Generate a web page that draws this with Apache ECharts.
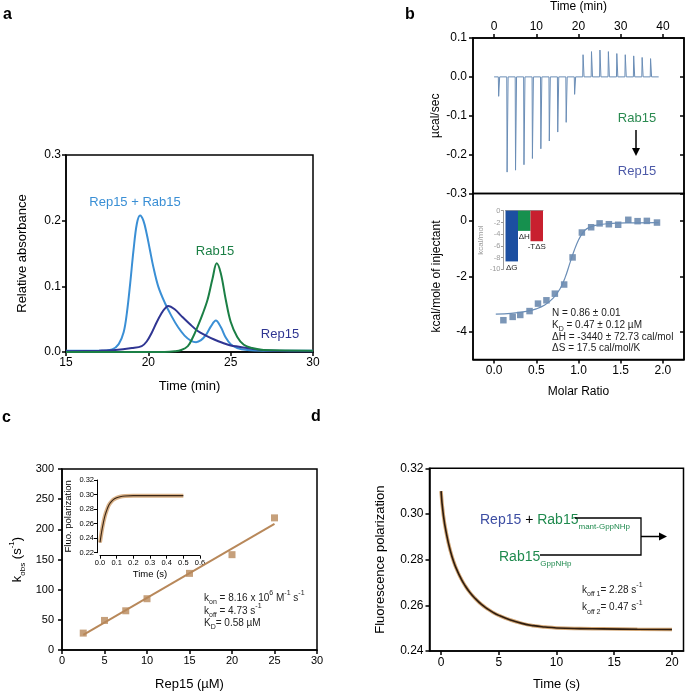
<!DOCTYPE html>
<html><head><meta charset="utf-8">
<script src="https://cdn.jsdelivr.net/npm/echarts@6/dist/echarts.min.js"></script>
<style>html,body{margin:0;padding:0;background:#fff}#c{width:685px;height:692px}</style>
</head><body><div id="c"></div><script>
// ---------- Panel a: size-exclusion traces ----------
const complexT = [15, 17, 17.8, 18.2, 18.5, 18.7, 18.9, 19.1, 19.3, 19.5, 19.7, 19.9, 20.1, 20.3, 20.6, 21.0, 21.4, 21.8, 22.2, 22.6, 22.9, 23.2, 23.5, 23.8, 24.1, 24.4, 24.7, 25.0, 25.4, 26.0, 27.0, 30];
const complexA = [0.002, 0.002, 0.004, 0.012, 0.03, 0.06, 0.105, 0.155, 0.195, 0.208, 0.2, 0.18, 0.155, 0.13, 0.1, 0.075, 0.055, 0.038, 0.025, 0.017, 0.015, 0.018, 0.026, 0.039, 0.048, 0.038, 0.022, 0.012, 0.006, 0.003, 0.002, 0.002];
const rep15T = [15, 17, 18, 19, 19.6, 19.9, 20.2, 20.5, 20.8, 21.0, 21.2, 21.6, 22.0, 22.5, 23.0, 23.5, 24.0, 24.5, 25.0, 25.5, 26.0, 26.5, 27.5, 30];
const rep15A = [0.001, 0.002, 0.003, 0.006, 0.009, 0.016, 0.029, 0.045, 0.059, 0.066, 0.070, 0.065, 0.055, 0.043, 0.032, 0.025, 0.019, 0.014, 0.010, 0.008, 0.006, 0.004, 0.002, 0.001];
const rab15T = [15, 21.0, 21.6, 22.0, 22.4, 22.7, 23.0, 23.3, 23.6, 23.9, 24.15, 24.4, 24.7, 25.0, 25.4, 25.8, 26.3, 27.0, 30];
const rab15A = [0.0, 0.0, 0.001, 0.003, 0.009, 0.022, 0.039, 0.058, 0.08, 0.112, 0.135, 0.12, 0.08, 0.046, 0.023, 0.011, 0.006, 0.003, 0.002];

// ---------- Panel b: ITC ----------
const injTime = [1, 3, 5, 7, 9, 11, 13, 15, 17, 19, 21, 23, 25, 27, 29, 31, 33, 35, 37];
const injPeak = [-0.05, -0.245, -0.24, -0.226, -0.21, -0.185, -0.165, -0.142, -0.117, -0.045, 0.057, 0.065, 0.069, 0.065, 0.06, 0.057, 0.054, 0.05, 0.047];
const molarRatio = [0.11, 0.22, 0.31, 0.42, 0.52, 0.62, 0.72, 0.83, 0.93, 1.04, 1.15, 1.25, 1.36, 1.47, 1.59, 1.70, 1.81, 1.93];
const heat = [-3.58, -3.46, -3.39, -3.25, -2.98, -2.86, -2.62, -2.29, -1.31, -0.41, -0.22, -0.08, -0.11, -0.13, 0.05, 0.0, 0.01, -0.05];
const fitRatio = [0.02, 0.2, 0.4, 0.5, 0.6, 0.7, 0.78, 0.84, 0.9, 0.95, 1.0, 1.05, 1.1, 1.2, 1.35, 1.6, 1.95];
const fitHeat = [-3.36, -3.33, -3.25, -3.17, -3.03, -2.78, -2.45, -2.05, -1.5, -1.05, -0.68, -0.42, -0.27, -0.15, -0.09, -0.06, -0.05];
const thermoLabels = ['ΔG', 'ΔH', '-TΔS'];
const thermoValues = [-8.64, -3.44, -5.2];
const thermoColors = ['#1c4fa1', '#16904e', '#c8202f'];

// ---------- Panel c: kobs ----------
const rep15Conc = [2.5, 5, 7.5, 10, 15, 20, 25];
const kobs = [28, 49, 65, 85, 127, 158, 219];
const kobsFitX = [2.5, 25];
const kobsFitY = [25, 209];
const insetT = [0, 0.01, 0.02, 0.03, 0.04, 0.05, 0.06, 0.08, 0.1, 0.12, 0.15, 0.2, 0.3, 0.4, 0.5];
const insetFP = [0.234, 0.249, 0.261, 0.271, 0.278, 0.284, 0.288, 0.293, 0.2955, 0.297, 0.298, 0.2985, 0.2985, 0.2985, 0.2985];

// ---------- Panel d: dissociation ----------
const dT = [0, 0.2, 0.5, 0.8, 1.1, 1.4, 1.7, 2.0, 2.5, 3.0, 3.5, 4.0, 4.5, 5.0, 6.0, 7.0, 8.0, 9.0, 10, 12, 14, 17, 20];
const dFP = [0.310, 0.2995, 0.2905, 0.284, 0.279, 0.2752, 0.272, 0.2693, 0.2656, 0.2628, 0.2604, 0.2585, 0.2569, 0.2556, 0.2536, 0.2521, 0.2511, 0.2505, 0.2501, 0.2498, 0.2497, 0.2495, 0.2494];

const FF = '"Liberation Sans", Arial, Helvetica, sans-serif';
const C_LB = '#3a8fd5', C_NAVY = '#2f3592', C_GREEN = '#1b7f45';
const C_ITC = '#6a8db6', C_ITCPT = '#5a7ca5';
const C_TAN = '#b8885a';
const C_DBLUE = '#3d4ea3', C_DGREEN = '#1f8a4e';

const zip = (a, b) => a.map((v, i) => [v, b[i]]);

function ax(p) {
  const col = p.color || '#000';
  const o = {
    type: 'value', gridIndex: p.g, min: p.min, max: p.max, position: p.pos, offset: p.offset || 0,
    axisLine: {show: true, onZero: false, lineStyle: {color: col, width: p.lw || 1.5}},
    axisTick: {show: true, inside: !!p.tickInside, length: p.tickLen || 4, lineStyle: {color: col, width: p.lw || 1.5}},
    axisLabel: {show: p.showLabel !== false, color: p.labelColor || '#000', fontFamily: FF, fontSize: p.fs || 12, margin: p.margin || 6},
    splitLine: {show: false},
    name: p.name || '', nameLocation: 'middle', nameGap: p.nameGap || 30,
    nameTextStyle: {color: p.nameColor || '#000', fontFamily: FF, fontSize: p.nfs || 13}
  };
  if (p.rich) o.nameTextStyle.rich = p.rich;
  if (p.fmt) o.axisLabel.formatter = p.fmt;
  if (p.interval != null) o.interval = p.interval;
  if (p.cv) { o.axisLabel.customValues = p.cv; o.axisTick.customValues = p.cv; }
  return o;
}
const f1 = v => v.toFixed(1), f2 = v => v.toFixed(2);

function tok(fs, color, lh, va) {
  return {fontSize: fs, fontFamily: FF, color: color, fill: color, lineHeight: lh, verticalAlign: va};
}
function richSet(fs, color) {
  const sf = Math.round(fs * 0.65);
  return {m: tok(fs, color, fs + 6, 'middle'), s: tok(sf, color, sf, 'bottom'), p: tok(sf, color, sf, 'top')};
}
function txt(x, y, text, fs, color, align, extra) {
  const st = Object.assign({text: text, fill: color || '#222', fontFamily: FF, fontSize: fs,
    align: align || 'left', verticalAlign: 'middle'}, extra || {});
  return {type: 'text', x: x, y: y, style: st, z: 100};
}
function rtxt(x, y, text, fs, color, rich) {
  return {type: 'text', x: x, y: y, z: 100, style: {text: text, fill: color, fontFamily: FF, fontSize: fs,
    align: 'left', verticalAlign: 'middle', rich: rich || richSet(fs, color)}};
}

const itcTrace = [[0, 0]];
injTime.forEach((t, i) => { itcTrace.push([t, 0], [t + 0.08, injPeak[i]], [t + 0.32, 0]); });
itcTrace.push([39, 0]);

const border = {show: true, borderColor: '#000', borderWidth: 1.5, backgroundColor: 'transparent'};

const option = {
  animation: false,
  grid: [
    Object.assign({left: 66, top: 155, width: 247, height: 197}, border),
    Object.assign({left: 473, top: 30, width: 211, height: 163.5}, border),
    Object.assign({left: 473, top: 193.5, width: 211, height: 166}, border),
    {left: 505.5, top: 210.7, width: 37.5, height: 58.7},
    Object.assign({left: 62, top: 469, width: 255, height: 186}, border),
    {left: 100, top: 480, width: 100, height: 72.7},
    Object.assign({left: 429.5, top: 468.3, width: 254, height: 186.5}, border)
  ],
  xAxis: [
    ax({g: 0, min: 15, max: 30, interval: 5, name: 'Time (min)', nameGap: 28, margin: 5}),
    ax({g: 1, min: -5, max: 45, pos: 'top', cv: [0, 10, 20, 30, 40], name: 'Time (min)', nameGap: 25, fs: 12, nfs: 12, margin: 5}),
    ax({g: 2, min: -0.25, max: 2.25, cv: [0, 0.5, 1, 1.5, 2], fmt: f1, name: 'Molar Ratio', nameGap: 26, fs: 12, nfs: 12, margin: 5}),
    {type: 'category', gridIndex: 3, data: thermoLabels, position: 'top',
      axisLine: {show: true, onZero: true, lineStyle: {color: '#999', width: 1}}, axisTick: {show: false}, axisLabel: {show: false}},
    ax({g: 4, min: 0, max: 30, interval: 5, name: 'Rep15 (µM)', nameGap: 28, fs: 11, nfs: 13, margin: 5}),
    ax({g: 5, min: 0, max: 0.6, interval: 0.1, fmt: f1, offset: 3, name: 'Time (s)', nameGap: 14, fs: 7.5, nfs: 9.5, margin: 3, lw: 1, tickLen: 3}),
    ax({g: 6, min: -1, max: 21, cv: [0, 5, 10, 15, 20], name: 'Time (s)', nameGap: 27, fs: 12, nfs: 13, margin: 6})
  ],
  yAxis: [
    ax({g: 0, min: 0, max: 0.3, interval: 0.1, fmt: f1, name: 'Relative absorbance', nameGap: 37, fs: 12, margin: 5}),
    ax({g: 1, min: -0.3, max: 0.1, interval: 0.1, fmt: f1, name: 'µcal/sec', nameGap: 31, fs: 12, nfs: 12, margin: 6}),
    ax({g: 2, min: -5, max: 1, cv: [0, -2, -4], name: 'kcal/mole of injectant', nameGap: 30, fs: 12, nfs: 12, margin: 6}),
    ax({g: 3, min: -10, max: 0, interval: 2, offset: 2, color: '#9a9a9a', labelColor: '#9a9a9a', lw: 1, tickLen: 2.5, fs: 7.5, margin: 3,
        name: 'kcal/mol', nameGap: 19, nfs: 8, nameColor: '#9a9a9a'}),
    ax({g: 4, min: 0, max: 300, interval: 50, fs: 11, margin: 8, name: '{m|k}{s|obs}{m| (s}{p|-1}{m|)}', nameGap: 35, rich: richSet(13, '#000')}),
    ax({g: 5, min: 0.22, max: 0.32, interval: 0.02, fmt: f2, offset: 3, fs: 7.5, margin: 3, lw: 1, tickLen: 3, name: 'Fluo. polarization', nameGap: 24, nfs: 9.5}),
    ax({g: 6, min: 0.24, max: 0.32, interval: 0.02, fmt: f2, name: 'Fluorescence polarization', nameGap: 43, fs: 12, nfs: 13, margin: 6}),
    ax({g: 1, min: -0.3, max: 0.1, interval: 0.1, pos: 'right', showLabel: false, tickInside: true, name: ''}),
    ax({g: 2, min: -5, max: 1, cv: [0, -2, -4], pos: 'right', showLabel: false, tickInside: true, name: ''})
  ],
  series: [
    {type: 'line', xAxisIndex: 0, yAxisIndex: 0, data: zip(complexT, complexA), smooth: 0.35, showSymbol: false, lineStyle: {color: C_LB, width: 2}},
    {type: 'line', xAxisIndex: 0, yAxisIndex: 0, data: zip(rep15T, rep15A), smooth: 0.35, showSymbol: false, lineStyle: {color: C_NAVY, width: 2}},
    {type: 'line', xAxisIndex: 0, yAxisIndex: 0, data: zip(rab15T, rab15A), smooth: 0.35, showSymbol: false, lineStyle: {color: C_GREEN, width: 2}},
    {type: 'line', xAxisIndex: 1, yAxisIndex: 1, data: itcTrace, showSymbol: false, lineStyle: {color: C_ITC, width: 1}},
    {type: 'line', xAxisIndex: 2, yAxisIndex: 2, data: zip(fitRatio, fitHeat), smooth: 0.4, showSymbol: false, lineStyle: {color: C_ITC, width: 1.2}},
    {type: 'scatter', xAxisIndex: 2, yAxisIndex: 2, data: zip(molarRatio, heat), symbol: 'rect', symbolSize: 6.5, itemStyle: {color: C_ITCPT}},
    {type: 'bar', xAxisIndex: 3, yAxisIndex: 3, barCategoryGap: '0%', barWidth: '100%',
      data: thermoValues.map((v, i) => ({value: v, itemStyle: {color: thermoColors[i]}})),
      label: {show: true, position: 'bottom', distance: 2, formatter: '{b}', fontSize: 8, color: '#222', fontFamily: FF}},
    {type: 'line', xAxisIndex: 4, yAxisIndex: 4, data: zip(kobsFitX, kobsFitY), showSymbol: false, lineStyle: {color: C_TAN, width: 2}},
    {type: 'scatter', xAxisIndex: 4, yAxisIndex: 4, data: zip(rep15Conc, kobs), symbol: 'rect', symbolSize: 7, itemStyle: {color: C_TAN}},
    {type: 'line', xAxisIndex: 5, yAxisIndex: 5, data: zip(insetT, insetFP), smooth: 0.4, showSymbol: false, lineStyle: {color: '#d2a574', width: 4, opacity: 0.85}},
    {type: 'line', xAxisIndex: 5, yAxisIndex: 5, data: zip(insetT, insetFP), smooth: 0.4, showSymbol: false, lineStyle: {color: '#3b2614', width: 1.1}},
    {type: 'line', xAxisIndex: 6, yAxisIndex: 6, data: zip(dT, dFP), smooth: 0.5, showSymbol: false, lineStyle: {color: '#c9955c', width: 3.5, opacity: 0.85}},
    {type: 'line', xAxisIndex: 6, yAxisIndex: 6, data: zip(dT, dFP), smooth: 0.5, showSymbol: false, lineStyle: {color: '#2e1c0e', width: 1.6}}
  ],
  graphic: [
    txt(3, 15, 'a', 16, '#000', 'left', {fontWeight: 'bold'}),
    txt(405, 14.5, 'b', 16, '#000', 'left', {fontWeight: 'bold'}),
    txt(2, 418, 'c', 16, '#000', 'left', {fontWeight: 'bold'}),
    txt(311, 417, 'd', 16, '#000', 'left', {fontWeight: 'bold'}),
    txt(135, 202, 'Rep15 + Rab15', 13, C_LB, 'center'),
    txt(215, 251, 'Rab15', 13, C_GREEN, 'center'),
    txt(280, 334, 'Rep15', 13, C_NAVY, 'center'),
    txt(637, 118, 'Rab15', 13, '#2a8a50', 'center'),
    {type: 'line', z: 100, shape: {x1: 636, y1: 130, x2: 636, y2: 150}, style: {stroke: '#000', lineWidth: 1.5}},
    {type: 'polygon', z: 100, shape: {points: [[632, 148], [640, 148], [636, 156]]}, style: {fill: '#000'}},
    txt(637, 171, 'Rep15', 13, '#4d5aa8', 'center'),
    txt(552, 313, 'N = 0.86 ± 0.01', 10, '#222'),
    rtxt(552, 325, '{m|K}{s|D}{m| = 0.47 ± 0.12 µM}', 10, '#222'),
    txt(552, 337, 'ΔH = -3440 ± 72.73 cal/mol', 10, '#222'),
    txt(552, 348.5, 'ΔS = 17.5 cal/mol/K', 10, '#222'),
    rtxt(204, 598, '{m|k}{s|on}{m| = 8.16 x 10}{p|6}{m| M}{p|-1}{m| s}{p|-1}', 10, '#222'),
    rtxt(204, 611, '{m|k}{s|off}{m| = 4.73 s}{p|-1}', 10, '#222'),
    rtxt(204, 623, '{m|K}{s|D}{m|= 0.58 µM}', 10, '#222'),
    {type: 'text', x: 480, y: 520, z: 100, style: {text: '{n|Rep15}{k| + }{g|Rab15}{gs|mant-GppNHp}', align: 'left', verticalAlign: 'middle',
      rich: {n: tok(14, C_DBLUE, 22, 'middle'), k: tok(14, '#000', 22, 'middle'), g: tok(14, C_DGREEN, 22, 'middle'), gs: tok(8, C_DGREEN, 9, 'bottom')}}},
    {type: 'text', x: 499, y: 557, z: 100, style: {text: '{g|Rab15}{gs|GppNHp}', align: 'left', verticalAlign: 'middle',
      rich: {g: tok(14, C_DGREEN, 22, 'middle'), gs: tok(8, C_DGREEN, 9, 'bottom')}}},
    {type: 'polyline', z: 100, shape: {points: [[575, 518], [641, 518], [641, 555], [540, 555]]}, style: {stroke: '#000', lineWidth: 1.3, fill: null}},
    {type: 'line', z: 100, shape: {x1: 641, y1: 536.5, x2: 662, y2: 536.5}, style: {stroke: '#000', lineWidth: 1.5}},
    {type: 'polygon', z: 100, shape: {points: [[659, 532.5], [667, 536.5], [659, 540.5]]}, style: {fill: '#000'}},
    rtxt(582, 590, '{m|k}{s|off 1}{m|= 2.28 s}{p|-1}', 10, '#222'),
    rtxt(582, 607.5, '{m|k}{s|off 2}{m|= 0.47 s}{p|-1}', 10, '#222')
  ]
};
const chart = echarts.init(document.getElementById('c'), null, {renderer: 'canvas'});
chart.setOption(option);
</script></body></html>
